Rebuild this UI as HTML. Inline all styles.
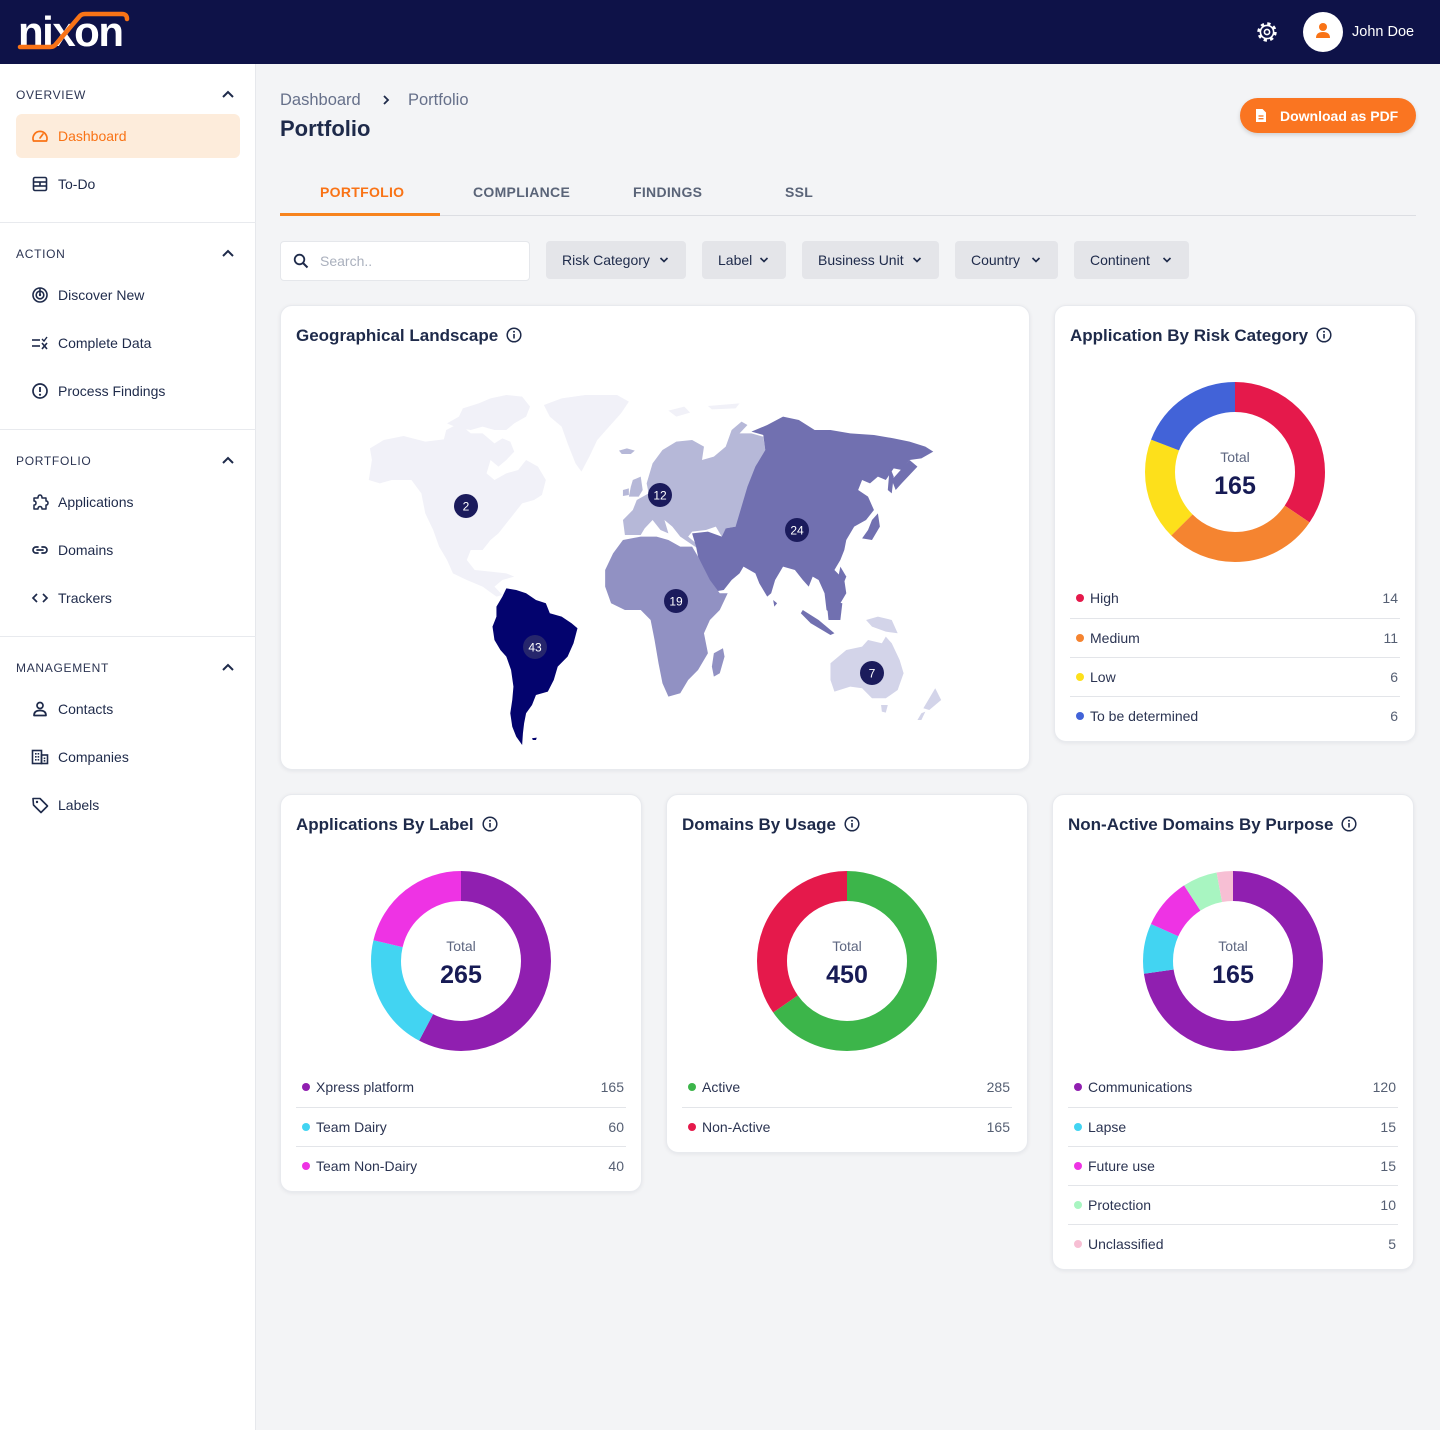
<!DOCTYPE html>
<html><head><meta charset="utf-8">
<style>
*{box-sizing:border-box;margin:0;padding:0}
body{width:1440px;height:1430px;position:relative;overflow:hidden;background:#f3f4f6;font-family:"Liberation Sans",sans-serif;color:#1e2a4a}
.a{position:absolute}
.sec{position:absolute;left:16px;font-size:12px;letter-spacing:.7px;color:#2b3452;line-height:14px;height:14px}
.item{position:absolute;left:58px;font-size:14px;color:#1e2a4a;line-height:16px;height:16px;white-space:nowrap}
.ico{position:absolute;left:31px;width:18px;height:18px}
.chev{position:absolute;left:221px;width:14px;height:14px}
.div{position:absolute;left:0;width:256px;height:1px;background:#e8eaee}
.tab{position:absolute;top:184px;font-size:14px;font-weight:600;letter-spacing:.3px;line-height:16px;color:#5a6478}
.btn{position:absolute;top:241px;height:38px;background:#e4e5e9;border-radius:4px;font-size:14px;line-height:38px;color:#1e2a4a;padding-left:16px;white-space:nowrap}
.btn svg{position:absolute;top:14px}
.card{position:absolute;background:#fff;border-radius:12px;border:1px solid #e8eaee;box-shadow:0 1px 4px rgba(20,30,60,.07)}
.ct{position:absolute;left:15px;top:20px;font-size:17px;font-weight:600;line-height:20px;color:#1e2a4a;white-space:nowrap}
.ct svg{vertical-align:-2px;margin-left:8px}
.dn{position:absolute;left:80px;top:66px;width:200px;height:200px}
.tot{position:absolute;left:0;width:360px;text-align:center;top:142px;font-size:14px;color:#5d6680;line-height:18px}
.num{position:absolute;left:0;width:360px;text-align:center;top:165px;font-size:25px;font-weight:600;color:#171b55;line-height:30px}
.lg{position:absolute;left:15px;right:15px;height:39px;line-height:39px;font-size:14px;color:#2b3452}
.lg.b{border-top:1px solid #e3e5e9}
.lg i{position:absolute;left:6px;top:15px;width:8px;height:8px;border-radius:50%}
.lg span{position:absolute;left:20px}
.lg em{position:absolute;right:2px;font-style:normal;color:#555f73}
</style></head><body>

<!-- header -->
<div class="a" style="left:0;top:0;width:1440px;height:64px;background:#0e1248"></div>
<div class="a" style="left:18px;top:7px;font-size:42px;font-weight:bold;line-height:50px;color:#fff;letter-spacing:-1.5px;font-family:'Liberation Sans',sans-serif">nixon</div>
<svg class="a" style="left:0;top:0" width="140" height="64"><path d="M20 47 L50 47 Q54 47 56 44 L79 17 Q81 14 85 14 L122 14 Q127 14 127 19" fill="none" stroke="#f97316" stroke-width="4.5" stroke-linecap="round"/></svg>
<svg class="a" style="left:1256px;top:21px" width="22" height="22" viewBox="0 0 22 22"><circle cx="11" cy="11" r="8.2" fill="none" stroke="#fff" stroke-width="3" stroke-dasharray="3.2 3.24"/><circle cx="11" cy="11" r="6.6" fill="none" stroke="#fff" stroke-width="1.6"/><circle cx="11" cy="11" r="2.6" fill="none" stroke="#fff" stroke-width="1.6"/></svg>
<div class="a" style="left:1303px;top:12px;width:40px;height:40px;border-radius:50%;background:#fff"></div>
<svg class="a" style="left:1313px;top:21px" width="20" height="20" viewBox="0 0 20 20"><circle cx="10" cy="6" r="4" fill="#f97316"/><path d="M3 17 Q3 11 10 11 Q17 11 17 17 Z" fill="#f97316"/></svg>
<div class="a" style="left:1352px;top:24px;font-size:14.5px;color:#fff;line-height:16px">John Doe</div>

<!-- sidebar -->
<div class="a" style="left:0;top:64px;width:256px;height:1366px;background:#fff;border-right:1px solid #e6e8ec"></div>
<div class="sec" style="top:88px">OVERVIEW</div>
<svg class="chev" style="top:87px" viewBox="0 0 14 14"><polyline points="2,10 7,5 12,10" fill="none" stroke="#1e2a4a" stroke-width="2"/></svg>
<div class="a" style="left:16px;top:114px;width:224px;height:44px;border-radius:6px;background:#fdecdb"></div>
<svg class="ico" style="top:127px" viewBox="0 0 18 18"><path d="M2.5 14 A7 7 0 1 1 15.5 14 Z" fill="none" stroke="#f97316" stroke-width="1.7" stroke-linejoin="round"/><line x1="9" y1="11" x2="12" y2="7" stroke="#f97316" stroke-width="1.7" stroke-linecap="round"/></svg>
<div class="item" style="top:128px;color:#f97316">Dashboard</div>
<svg class="ico" style="top:175px" viewBox="0 0 18 18"><rect x="2.5" y="2.5" width="13" height="13" rx="1.5" fill="none" stroke="#1e2a4a" stroke-width="1.6"/><line x1="2.5" y1="7" x2="15.5" y2="7" stroke="#1e2a4a" stroke-width="1.6"/><line x1="2.5" y1="11" x2="15.5" y2="11" stroke="#1e2a4a" stroke-width="1.6"/><line x1="9" y1="7" x2="9" y2="11" stroke="#1e2a4a" stroke-width="1.6"/></svg>
<div class="item" style="top:176px">To-Do</div>
<div class="div" style="top:222px"></div>

<div class="sec" style="top:247px">ACTION</div>
<svg class="chev" style="top:246px" viewBox="0 0 14 14"><polyline points="2,10 7,5 12,10" fill="none" stroke="#1e2a4a" stroke-width="2"/></svg>
<svg class="ico" style="top:286px" viewBox="0 0 18 18"><circle cx="9" cy="9" r="7" fill="none" stroke="#1e2a4a" stroke-width="1.6"/><circle cx="9" cy="9" r="3.8" fill="none" stroke="#1e2a4a" stroke-width="1.6"/><circle cx="9" cy="9" r="1.2" fill="#1e2a4a"/><line x1="9" y1="2" x2="9" y2="9" stroke="#1e2a4a" stroke-width="1.6"/></svg>
<div class="item" style="top:287px">Discover New</div>
<svg class="ico" style="top:334px" viewBox="0 0 18 18"><line x1="1" y1="6" x2="9" y2="6" stroke="#1e2a4a" stroke-width="1.6"/><line x1="1" y1="12" x2="9" y2="12" stroke="#1e2a4a" stroke-width="1.6"/><line x1="11" y1="9" x2="16" y2="15" stroke="#1e2a4a" stroke-width="1.6"/><line x1="16" y1="9" x2="11" y2="15" stroke="#1e2a4a" stroke-width="1.6"/><polyline points="11,5 13,7 16,3" fill="none" stroke="#1e2a4a" stroke-width="1.4"/></svg>
<div class="item" style="top:335px">Complete Data</div>
<svg class="ico" style="top:382px" viewBox="0 0 18 18"><circle cx="9" cy="9" r="7" fill="none" stroke="#1e2a4a" stroke-width="1.7"/><line x1="9" y1="5" x2="9" y2="10" stroke="#1e2a4a" stroke-width="1.8"/><circle cx="9" cy="12.7" r="1.1" fill="#1e2a4a"/></svg>
<div class="item" style="top:383px">Process Findings</div>
<div class="div" style="top:429px"></div>

<div class="sec" style="top:454px">PORTFOLIO</div>
<svg class="chev" style="top:453px" viewBox="0 0 14 14"><polyline points="2,10 7,5 12,10" fill="none" stroke="#1e2a4a" stroke-width="2"/></svg>
<svg class="ico" style="top:493px" viewBox="0 0 18 18"><path d="M3 5 L7 5 Q7 2 9 2 Q11 2 11 5 L15 5 L15 8 Q17 8 17 10 Q17 12 15 12 L15 16 L11 16 Q11 13.5 9 13.5 Q7 13.5 7 16 L3 16 L3 12 Q5 12 5 10 Q5 8 3 8 Z" fill="none" stroke="#1e2a4a" stroke-width="1.5" stroke-linejoin="round"/></svg>
<div class="item" style="top:494px">Applications</div>
<svg class="ico" style="top:541px" viewBox="0 0 18 18"><path d="M7 6 L5 6 A3 3 0 0 0 5 12 L7 12 M11 6 L13 6 A3 3 0 0 1 13 12 L11 12 M6 9 L12 9" fill="none" stroke="#1e2a4a" stroke-width="1.7" stroke-linecap="round"/></svg>
<div class="item" style="top:542px">Domains</div>
<svg class="ico" style="top:589px" viewBox="0 0 18 18"><polyline points="6,5 2,9 6,13" fill="none" stroke="#1e2a4a" stroke-width="1.7"/><polyline points="12,5 16,9 12,13" fill="none" stroke="#1e2a4a" stroke-width="1.7"/></svg>
<div class="item" style="top:590px">Trackers</div>
<div class="div" style="top:636px"></div>

<div class="sec" style="top:661px">MANAGEMENT</div>
<svg class="chev" style="top:660px" viewBox="0 0 14 14"><polyline points="2,10 7,5 12,10" fill="none" stroke="#1e2a4a" stroke-width="2"/></svg>
<svg class="ico" style="top:700px" viewBox="0 0 18 18"><circle cx="9" cy="5.5" r="3" fill="none" stroke="#1e2a4a" stroke-width="1.7"/><path d="M3 15.5 Q3 10.5 9 10.5 Q15 10.5 15 15.5 Z" fill="none" stroke="#1e2a4a" stroke-width="1.7" stroke-linejoin="round"/></svg>
<div class="item" style="top:701px">Contacts</div>
<svg class="ico" style="top:748px" viewBox="0 0 18 18"><rect x="1.5" y="2.5" width="9" height="13" fill="none" stroke="#1e2a4a" stroke-width="1.6"/><rect x="10.5" y="7" width="6" height="8.5" fill="none" stroke="#1e2a4a" stroke-width="1.6"/><g fill="#1e2a4a"><rect x="4" y="5" width="1.6" height="1.6"/><rect x="6.6" y="5" width="1.6" height="1.6"/><rect x="4" y="8" width="1.6" height="1.6"/><rect x="6.6" y="8" width="1.6" height="1.6"/><rect x="4" y="11" width="1.6" height="1.6"/><rect x="6.6" y="11" width="1.6" height="1.6"/><rect x="12.7" y="9.5" width="1.6" height="1.6"/><rect x="12.7" y="12" width="1.6" height="1.6"/></g></svg>
<div class="item" style="top:749px">Companies</div>
<svg class="ico" style="top:796px" viewBox="0 0 18 18"><path d="M2 2.5 L9 2.5 L16.5 10 L10 16.5 L2.5 9 Z" fill="none" stroke="#1e2a4a" stroke-width="1.6" stroke-linejoin="round"/><circle cx="6" cy="6" r="1.2" fill="#1e2a4a"/></svg>
<div class="item" style="top:797px">Labels</div>

<!-- page header -->
<div class="a" style="left:280px;top:91px;font-size:16.5px;color:#66708a;line-height:19px">Dashboard</div>
<svg class="a" style="left:380px;top:94px" width="12" height="12" viewBox="0 0 12 12"><polyline points="4,2 8,6 4,10" fill="none" stroke="#1e2a4a" stroke-width="1.8"/></svg>
<div class="a" style="left:408px;top:91px;font-size:16.5px;color:#66708a;line-height:19px">Portfolio</div>
<div class="a" style="left:280px;top:115px;font-size:22px;font-weight:600;color:#1e2a4a;line-height:28px">Portfolio</div>

<div class="a" style="left:1240px;top:98px;width:176px;height:35px;border-radius:18px;background:#fa7521;box-shadow:0 2px 4px rgba(0,0,0,.15)"></div>
<svg class="a" style="left:1255px;top:108px" width="12" height="15" viewBox="0 0 12 15"><path d="M1 1 L7.5 1 L11 4.5 L11 14 L1 14 Z" fill="#fff"/><line x1="3.5" y1="8" x2="8.5" y2="8" stroke="#fa7521" stroke-width="1.3"/><line x1="3.5" y1="10.7" x2="8.5" y2="10.7" stroke="#fa7521" stroke-width="1.3"/></svg>
<div class="a" style="left:1280px;top:108px;font-size:14px;font-weight:600;color:#fff;line-height:17px">Download as PDF</div>

<!-- tabs -->
<div class="a" style="left:280px;top:215px;width:1136px;height:1px;background:#dcdee3"></div>
<div class="a" style="left:280px;top:213px;width:160px;height:3px;background:#f7841e"></div>
<div class="tab" style="left:320px;color:#f97316">PORTFOLIO</div>
<div class="tab" style="left:473px">COMPLIANCE</div>
<div class="tab" style="left:633px">FINDINGS</div>
<div class="tab" style="left:785px">SSL</div>

<!-- filters -->
<div class="a" style="left:280px;top:241px;width:250px;height:40px;background:#fff;border:1px solid #e5e7eb;border-radius:4px"></div>
<svg class="a" style="left:293px;top:253px" width="16" height="16" viewBox="0 0 16 16"><circle cx="6.5" cy="6.5" r="4.8" fill="none" stroke="#1e2a4a" stroke-width="1.8"/><line x1="10" y1="10" x2="14.5" y2="14.5" stroke="#1e2a4a" stroke-width="2"/></svg>
<div class="a" style="left:320px;top:253px;font-size:14px;color:#aab0bd;line-height:16px">Search..</div>
<div class="btn" style="left:546px;width:140px">Risk Category<svg style="left:113px" width="10" height="10" viewBox="0 0 10 10"><polyline points="1.5,3 5,6.5 8.5,3" fill="none" stroke="#1e2a4a" stroke-width="1.6"/></svg></div>
<div class="btn" style="left:702px;width:84px">Label<svg style="left:57px" width="10" height="10" viewBox="0 0 10 10"><polyline points="1.5,3 5,6.5 8.5,3" fill="none" stroke="#1e2a4a" stroke-width="1.6"/></svg></div>
<div class="btn" style="left:802px;width:137px">Business Unit<svg style="left:110px" width="10" height="10" viewBox="0 0 10 10"><polyline points="1.5,3 5,6.5 8.5,3" fill="none" stroke="#1e2a4a" stroke-width="1.6"/></svg></div>
<div class="btn" style="left:955px;width:103px">Country<svg style="left:76px" width="10" height="10" viewBox="0 0 10 10"><polyline points="1.5,3 5,6.5 8.5,3" fill="none" stroke="#1e2a4a" stroke-width="1.6"/></svg></div>
<div class="btn" style="left:1074px;width:115px">Continent<svg style="left:88px" width="10" height="10" viewBox="0 0 10 10"><polyline points="1.5,3 5,6.5 8.5,3" fill="none" stroke="#1e2a4a" stroke-width="1.6"/></svg></div>

<!-- Geo card -->
<div class="card" style="left:280px;top:305px;width:750px;height:465px">
<div class="ct">Geographical Landscape<svg width="16" height="16" viewBox="0 0 16 16"><circle cx="8" cy="8" r="6.8" fill="none" stroke="#1e2a4a" stroke-width="1.5"/><line x1="8" y1="7" x2="8" y2="11.5" stroke="#1e2a4a" stroke-width="1.6"/><circle cx="8" cy="4.8" r="1" fill="#1e2a4a"/></svg></div>
<svg class="a" style="left:-1px;top:-1px" width="750" height="465">
<g transform="translate(60.3,75) scale(0.3953,0.3333)">
<g fill="#f1f1f8">
<polygon points="72,300 80,240 75,205 110,180 160,168 215,185 262,178 268,150 300,130 330,160 360,160 390,190 410,175 430,185 440,215 420,240 400,260 380,240 370,280 390,300 420,280 450,270 470,240 500,260 520,300 510,345 490,360 460,370 440,400 420,430 400,460 380,480 360,510 330,510 320,540 340,570 380,575 420,580 440,590 410,600 390,620 410,645 395,650 360,620 320,600 285,580 270,540 250,500 235,450 215,400 205,340 180,300 130,300 100,310"/>
<polygon points="270,130 300,110 310,85 350,70 380,55 420,45 460,50 480,80 470,110 440,130 420,150 390,150 360,140 330,150 300,145"/>
<polygon points="515,75 560,55 620,45 700,45 730,65 710,100 680,140 650,180 630,230 610,275 595,250 575,190 560,140 530,110"/>
<polygon points="830,92 870,80 885,98 850,110"/><polygon points="930,78 1010,70 1000,85 940,88"/>
</g>
<g fill="#b6b8d8">
<polygon points="780,290 790,250 815,210 850,185 890,180 920,200 915,240 945,230 975,200 990,150 1015,125 1030,135 1010,160 1040,160 1070,170 1075,210 1055,250 1050,290 1030,330 1020,380 1010,420 1000,440 975,445 965,470 950,440 925,450 890,455 880,470 900,490 910,510 885,490 860,470 840,440 820,420 830,460 810,450 790,420 770,445 760,465 720,465 715,420 740,390 750,360 780,340 775,310"/>
<polygon points="740,300 760,290 765,330 755,350 730,350 735,320"/>
<polygon points="715,330 730,325 730,345 715,348"/>
<polygon points="705,212 725,205 745,212 735,222 712,222"/>
</g>
<g fill="#7170b0">
<polygon points="1040,155 1080,135 1120,110 1160,120 1200,150 1240,150 1290,160 1350,165 1400,175 1440,185 1480,200 1500,215 1470,235 1440,240 1420,270 1400,265 1380,300 1360,290 1340,310 1320,300 1310,330 1335,350 1350,390 1330,420 1300,440 1280,480 1275,510 1265,540 1250,570 1275,600 1280,640 1260,680 1240,700 1230,690 1225,640 1210,600 1195,590 1185,620 1170,600 1150,570 1120,560 1100,600 1090,640 1080,650 1060,610 1050,580 1020,560 1010,580 990,600 970,630 945,635 930,600 915,560 905,530 900,500 890,460 930,455 965,470 975,445 1000,440 1015,380 1030,320 1050,260 1075,210 1070,165"/>
<polygon points="1345,420 1360,400 1365,440 1345,480 1320,475 1335,450"/>
<polygon points="1440,240 1460,260 1420,310 1405,330 1395,300"/>
<polygon points="1390,260 1400,290 1395,340 1385,330"/>
<polygon points="1170,690 1210,720 1250,760 1240,765 1190,730 1165,700"/>
<polygon points="1230,660 1270,670 1265,720 1235,720"/>
<polygon points="1265,560 1280,590 1270,620 1260,590"/>
<polygon points="1095,660 1105,670 1098,680"/>
</g>
<g fill="#9191c3">
<polygon points="715,480 760,470 800,470 830,480 860,500 890,500 905,530 920,565 935,600 960,640 980,640 960,690 935,720 920,760 930,820 905,870 880,900 860,940 830,950 815,910 805,850 795,780 785,720 760,690 720,690 685,670 670,620 670,570 690,520"/>
<polygon points="945,820 968,805 972,830 960,880 945,890 940,860"/>
</g>
<g fill="#d3d4e9">
<polygon points="1240,850 1280,810 1320,800 1335,780 1370,790 1380,770 1395,790 1415,840 1425,880 1410,930 1380,955 1345,955 1320,925 1290,920 1250,935 1240,900"/>
<polygon points="1330,720 1360,710 1395,720 1410,760 1380,755 1345,740"/>
<polygon points="1368,975 1385,975 1380,998 1370,995"/>
<polygon points="1505,925 1520,960 1490,990 1475,985"/>
<polygon points="1480,995 1470,1020 1460,1020 1470,1000"/>
</g>
<g fill="#03036e">
<polygon points="420,625 445,630 470,640 495,660 520,670 530,700 560,710 585,730 600,745 590,790 575,830 550,860 540,900 525,935 495,945 485,975 470,1000 465,1030 462,1060 460,1095 445,1070 435,1040 430,1000 435,960 438,920 432,870 420,830 405,810 390,780 385,740 395,710 395,680 410,650"/>
<polygon points="485,1075 497,1073 495,1080 487,1080"/>
</g>
</g>
<g font-family="Liberation Sans, sans-serif" font-size="12" fill="#fff" text-anchor="middle">
<circle cx="186" cy="201" r="12" fill="#1b1b5c"/><text x="186" y="205.5">2</text>
<circle cx="380" cy="190" r="12" fill="#1b1b5c"/><text x="380" y="194.5">12</text>
<circle cx="517" cy="225" r="12" fill="#1b1b5c"/><text x="517" y="229.5">24</text>
<circle cx="396" cy="296" r="12" fill="#1b1b5c"/><text x="396" y="300.5">19</text>
<circle cx="255" cy="342" r="12" fill="#26266c"/><text x="255" y="346.5">43</text>
<circle cx="592" cy="368" r="12" fill="#1b1b5c"/><text x="592" y="372.5">7</text>
</g>
</svg>
</div>

<!-- Risk card -->
<div class="card" style="left:1054px;top:305px;width:362px;height:437px">
<div class="ct">Application By Risk Category<svg width="16" height="16" viewBox="0 0 16 16"><circle cx="8" cy="8" r="6.8" fill="none" stroke="#1e2a4a" stroke-width="1.5"/><line x1="8" y1="7" x2="8" y2="11.5" stroke="#1e2a4a" stroke-width="1.6"/><circle cx="8" cy="4.8" r="1" fill="#1e2a4a"/></svg></div>
<svg class="dn" viewBox="0 0 200 200"><g transform="rotate(-90 100 100)" fill="none" stroke-width="30">
<circle cx="100" cy="100" r="75" stroke="#e5194b" stroke-dasharray="162.3 471.24"/>
<circle cx="100" cy="100" r="75" stroke="#f58430" stroke-dasharray="132.2 471.24" stroke-dashoffset="-162.3"/>
<circle cx="100" cy="100" r="75" stroke="#fde01b" stroke-dasharray="86.4 471.24" stroke-dashoffset="-294.5"/>
<circle cx="100" cy="100" r="75" stroke="#4263d8" stroke-dasharray="90.4 471.24" stroke-dashoffset="-380.9"/>
</g></svg>
<div class="tot">Total</div><div class="num">165</div>
<div class="lg" style="top:273px"><i style="background:#e5194b"></i><span>High</span><em>14</em></div>
<div class="lg b" style="top:312px"><i style="background:#f58430"></i><span>Medium</span><em>11</em></div>
<div class="lg b" style="top:351px"><i style="background:#fde01b"></i><span>Low</span><em>6</em></div>
<div class="lg b" style="top:390px"><i style="background:#4263d8"></i><span>To be determined</span><em>6</em></div>
</div>

<!-- Label card -->
<div class="card" style="left:280px;top:794px;width:362px;height:398px">
<div class="ct">Applications By Label<svg width="16" height="16" viewBox="0 0 16 16"><circle cx="8" cy="8" r="6.8" fill="none" stroke="#1e2a4a" stroke-width="1.5"/><line x1="8" y1="7" x2="8" y2="11.5" stroke="#1e2a4a" stroke-width="1.6"/><circle cx="8" cy="4.8" r="1" fill="#1e2a4a"/></svg></div>
<svg class="dn" viewBox="0 0 200 200"><g transform="rotate(-90 100 100)" fill="none" stroke-width="30">
<circle cx="100" cy="100" r="75" stroke="#901fb0" stroke-dasharray="271.8 471.24"/>
<circle cx="100" cy="100" r="75" stroke="#42d4f2" stroke-dasharray="99 471.24" stroke-dashoffset="-271.8"/>
<circle cx="100" cy="100" r="75" stroke="#ee33e4" stroke-dasharray="100.5 471.24" stroke-dashoffset="-370.8"/>
</g></svg>
<div class="tot">Total</div><div class="num">265</div>
<div class="lg" style="top:273px"><i style="background:#901fb0"></i><span>Xpress platform</span><em>165</em></div>
<div class="lg b" style="top:312px"><i style="background:#42d4f2"></i><span>Team Dairy</span><em>60</em></div>
<div class="lg b" style="top:351px"><i style="background:#ee33e4"></i><span>Team Non-Dairy</span><em>40</em></div>
</div>

<!-- Domains card -->
<div class="card" style="left:666px;top:794px;width:362px;height:359px">
<div class="ct">Domains By Usage<svg width="16" height="16" viewBox="0 0 16 16"><circle cx="8" cy="8" r="6.8" fill="none" stroke="#1e2a4a" stroke-width="1.5"/><line x1="8" y1="7" x2="8" y2="11.5" stroke="#1e2a4a" stroke-width="1.6"/><circle cx="8" cy="4.8" r="1" fill="#1e2a4a"/></svg></div>
<svg class="dn" viewBox="0 0 200 200"><g transform="rotate(-90 100 100)" fill="none" stroke-width="30">
<circle cx="100" cy="100" r="75" stroke="#3cb54a" stroke-dasharray="307.6 471.24"/>
<circle cx="100" cy="100" r="75" stroke="#e5194b" stroke-dasharray="163.7 471.24" stroke-dashoffset="-307.6"/>
</g></svg>
<div class="tot">Total</div><div class="num">450</div>
<div class="lg" style="top:273px"><i style="background:#3cb54a"></i><span>Active</span><em>285</em></div>
<div class="lg b" style="top:312px"><i style="background:#e5194b"></i><span>Non-Active</span><em>165</em></div>
</div>

<!-- Non-active card -->
<div class="card" style="left:1052px;top:794px;width:362px;height:476px">
<div class="ct">Non-Active Domains By Purpose<svg width="16" height="16" viewBox="0 0 16 16"><circle cx="8" cy="8" r="6.8" fill="none" stroke="#1e2a4a" stroke-width="1.5"/><line x1="8" y1="7" x2="8" y2="11.5" stroke="#1e2a4a" stroke-width="1.6"/><circle cx="8" cy="4.8" r="1" fill="#1e2a4a"/></svg></div>
<svg class="dn" viewBox="0 0 200 200"><g transform="rotate(-90 100 100)" fill="none" stroke-width="30">
<circle cx="100" cy="100" r="75" stroke="#901fb0" stroke-dasharray="342.6 471.24"/>
<circle cx="100" cy="100" r="75" stroke="#42d4f2" stroke-dasharray="42.5 471.24" stroke-dashoffset="-342.6"/>
<circle cx="100" cy="100" r="75" stroke="#ee33e4" stroke-dasharray="42.9 471.24" stroke-dashoffset="-385.1"/>
<circle cx="100" cy="100" r="75" stroke="#a8f5c1" stroke-dasharray="29.3 471.24" stroke-dashoffset="-428"/>
<circle cx="100" cy="100" r="75" stroke="#f7bfd4" stroke-dasharray="14 471.24" stroke-dashoffset="-457.3"/>
</g></svg>
<div class="tot">Total</div><div class="num">165</div>
<div class="lg" style="top:273px"><i style="background:#901fb0"></i><span>Communications</span><em>120</em></div>
<div class="lg b" style="top:312px"><i style="background:#42d4f2"></i><span>Lapse</span><em>15</em></div>
<div class="lg b" style="top:351px"><i style="background:#ee33e4"></i><span>Future use</span><em>15</em></div>
<div class="lg b" style="top:390px"><i style="background:#a8f5c1"></i><span>Protection</span><em>10</em></div>
<div class="lg b" style="top:429px"><i style="background:#f7bfd4"></i><span>Unclassified</span><em>5</em></div>
</div>

</body></html>
